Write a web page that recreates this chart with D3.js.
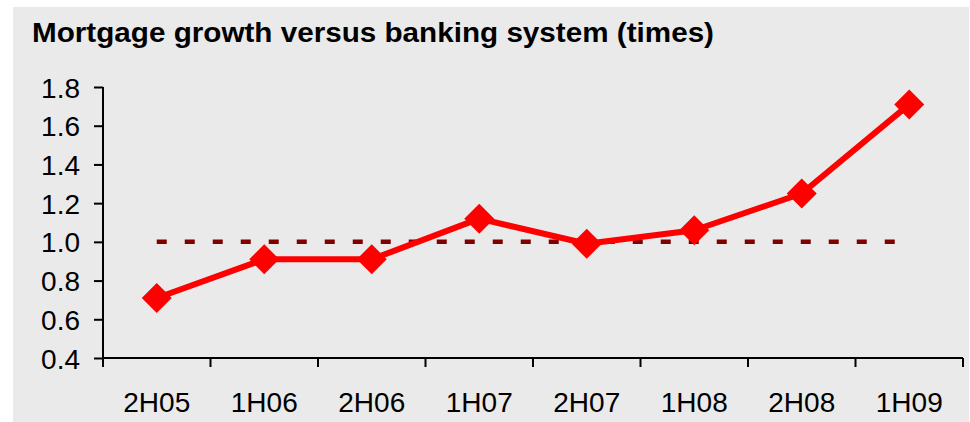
<!DOCTYPE html>
<html>
<head>
<meta charset="utf-8">
<script src="https://cdn.jsdelivr.net/npm/d3@7"></script>
<style>
  body { margin: 0; background: #fff; }
  svg { display: block; }
  .tick-label { font-family: "Liberation Sans", Arial, sans-serif; font-size: 28px; fill: #000; }
  .title { font-family: "Liberation Sans", Arial, sans-serif; font-size: 27px; font-weight: bold; fill: #000; }
</style>
</head>
<body>
<svg id="chart" width="970" height="422"></svg>
<script>
const periods = ['2H05', '1H06', '2H06', '1H07', '2H07', '1H08', '2H08', '1H09'];
const mortgageRatio = [0.71, 0.91, 0.91, 1.12, 0.99, 1.06, 1.25, 1.71];
const parity = [1, 1, 1, 1, 1, 1, 1, 1];
const yTicks = [0.4, 0.6, 0.8, 1.0, 1.2, 1.4, 1.6, 1.8];

const svg = d3.select('#chart');

// grey panel behind everything
svg.append('rect')
  .attr('x', 13).attr('y', 7)
  .attr('width', 956).attr('height', 415)
  .attr('fill', '#eaeaea');

svg.append('text')
  .attr('class', 'title')
  .attr('x', 32).attr('y', 42)
  .attr('textLength', 682)
  .attr('lengthAdjust', 'spacingAndGlyphs')
  .text('Mortgage growth versus banking system (times)');

const x = d3.scaleBand()
  .domain(periods)
  .range([103, 963]);

const y = d3.scaleLinear()
  .domain([0.4, 1.8])
  .range([358, 87]);

const cx = d => x(d) + x.bandwidth() / 2;

// axes
const yAxis = svg.append('g')
  .attr('transform', 'translate(103,0)')
  .call(d3.axisLeft(y).tickValues(yTicks).tickFormat(d3.format('.1f')).tickSize(9).tickPadding(14));

const xAxis = svg.append('g')
  .attr('transform', 'translate(0,358)')
  .call(d3.axisBottom(x).tickSize(0).tickPadding(54));

// band edges carry the tick marks in the original
xAxis.selectAll('.edge')
  .data(d3.range(periods.length + 1))
  .enter()
  .append('line')
  .attr('class', 'edge')
  .attr('x1', i => 103 + i * x.step())
  .attr('x2', i => 103 + i * x.step())
  .attr('y1', 0).attr('y2', 9)
  .attr('stroke', '#000')
  .attr('stroke-width', 2);

[yAxis, xAxis].forEach(a => {
  a.select('.domain').attr('stroke', '#000').attr('stroke-width', 2);
  a.selectAll('.tick line').attr('stroke', '#000').attr('stroke-width', 2);
  a.selectAll('.tick text').attr('class', 'tick-label').attr('font-size', null).attr('font-family', null);
});
yAxis.select('.domain').attr('d', 'M0,358V87');
xAxis.select('.domain').attr('d', 'M103,0H963');
yAxis.selectAll('.tick text').attr('dy', '0.36em');
xAxis.selectAll('.tick text').attr('dy', '0');

// 1.0 reference line
svg.append('path')
  .datum(parity)
  .attr('fill', 'none')
  .attr('stroke', '#800000')
  .attr('stroke-width', 4.5)
  .attr('stroke-dasharray', '10,18')
  .attr('d', d3.line().x((d, i) => cx(periods[i])).y(d => y(d)));

// mortgage series
svg.append('path')
  .datum(mortgageRatio)
  .attr('fill', 'none')
  .attr('stroke', '#ff0000')
  .attr('stroke-width', 6)
  .attr('stroke-linejoin', 'round')
  .attr('d', d3.line().x((d, i) => cx(periods[i])).y(d => y(d)));

svg.append('g')
  .selectAll('path')
  .data(mortgageRatio)
  .enter()
  .append('path')
  .attr('fill', '#ff0000')
  .attr('transform', (d, i) => `translate(${cx(periods[i])},${y(d)})`)
  .attr('d', 'M0,-15L15,0L0,15L-15,0Z');
</script>
</body>
</html>
